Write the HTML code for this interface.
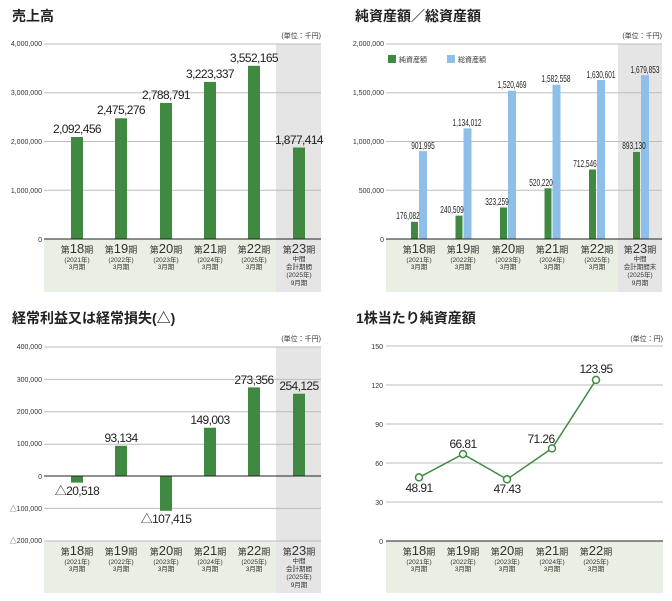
<!DOCTYPE html>
<html><head><meta charset="utf-8"><style>
html,body{margin:0;padding:0;background:#fff;}
svg{display:block;font-family:"Liberation Sans","Noto Sans CJK JP",sans-serif;}
.t{font-size:14px;font-weight:bold;fill:#222;}
.ax{font-size:7px;fill:#333;}
.u{font-size:7px;fill:#333;}
.v{font-size:12px;fill:#222;letter-spacing:-0.6px;}
.c{font-size:9px;fill:#333;}
.cn{font-size:13px;}
.s{font-size:6.5px;fill:#333;}
.n{font-size:10px;fill:#222;}
.g{stroke:#bdbdbd;stroke-width:1;}
</style></head><body>
<svg width="672" height="601" viewBox="0 0 672 601">
<!-- Chart 1 -->
<text class="t" x="12" y="21">売上高</text>
<rect x="44" y="239" width="232" height="53" fill="#e9efe2"/>
<rect x="276" y="44" width="45" height="248" fill="#e5e5e5"/>
<line class="g" x1="44" y1="44" x2="321" y2="44"/>
<line class="g" x1="44" y1="92.75" x2="321" y2="92.75"/>
<line class="g" x1="44" y1="141.5" x2="321" y2="141.5"/>
<line class="g" x1="44" y1="190.25" x2="321" y2="190.25"/>
<text class="u" x="321" y="38" text-anchor="end">(単位：千円)</text>
<g class="ax" text-anchor="end">
<text x="42" y="46">4,000,000</text><text x="42" y="95">3,000,000</text><text x="42" y="144">2,000,000</text><text x="42" y="193">1,000,000</text><text x="42" y="242">0</text>
</g>
<g fill="#3f8a40">
<rect x="71" y="137" width="12" height="102"/><rect x="115" y="118.3" width="12" height="120.7"/><rect x="160" y="103" width="12" height="136"/><rect x="204" y="81.9" width="12" height="157.1"/><rect x="248" y="65.8" width="12" height="173.2"/><rect x="293" y="147.5" width="12" height="91.5"/>
</g>
<line x1="44" y1="239" x2="321" y2="239" stroke="#222" stroke-width="1"/>
<g class="v" text-anchor="middle">
<text x="77" y="133">2,092,456</text><text x="121" y="114">2,475,276</text><text x="166" y="99">2,788,791</text><text x="210" y="78">3,223,337</text><text x="254" y="62">3,552,165</text><text x="299" y="144">1,877,414</text>
</g>
<g text-anchor="middle">
<text class="c" x="77" y="253">第<tspan class="cn">18</tspan>期</text><text class="s" x="77" y="262">(2021年)</text><text class="s" x="77" y="269">3月期</text>
<text class="c" x="121" y="253">第<tspan class="cn">19</tspan>期</text><text class="s" x="121" y="262">(2022年)</text><text class="s" x="121" y="269">3月期</text>
<text class="c" x="166" y="253">第<tspan class="cn">20</tspan>期</text><text class="s" x="166" y="262">(2023年)</text><text class="s" x="166" y="269">3月期</text>
<text class="c" x="210" y="253">第<tspan class="cn">21</tspan>期</text><text class="s" x="210" y="262">(2024年)</text><text class="s" x="210" y="269">3月期</text>
<text class="c" x="254" y="253">第<tspan class="cn">22</tspan>期</text><text class="s" x="254" y="262">(2025年)</text><text class="s" x="254" y="269">3月期</text>
<text class="c" x="299" y="253">第<tspan class="cn">23</tspan>期</text><text class="s" x="299" y="261">中間</text><text class="s" x="299" y="269">会計期間</text><text class="s" x="299" y="277">(2025年)</text><text class="s" x="299" y="285">9月期</text>
</g>

<!-- Chart 2 -->
<text class="t" x="355" y="21">純資産額／総資産額</text>
<rect x="386" y="239" width="232" height="53" fill="#e9efe2"/>
<rect x="618" y="44" width="44" height="248" fill="#e5e5e5"/>
<line class="g" x1="386" y1="44" x2="662" y2="44"/>
<line class="g" x1="386" y1="92.75" x2="662" y2="92.75"/>
<line class="g" x1="386" y1="141.5" x2="662" y2="141.5"/>
<line class="g" x1="386" y1="190.25" x2="662" y2="190.25"/>
<text class="u" x="662" y="38" text-anchor="end">(単位：千円)</text>
<g class="ax" text-anchor="end">
<text x="384" y="46">2,000,000</text><text x="384" y="95">1,500,000</text><text x="384" y="144">1,000,000</text><text x="384" y="193">500,000</text><text x="384" y="242">0</text>
</g>
<rect x="388" y="55" width="8" height="8" fill="#3f8a40"/><text class="u" x="399" y="62">純資産額</text>
<rect x="447" y="55" width="8" height="8" fill="#8ebfe8"/><text class="u" x="458" y="62">総資産額</text>
<g fill="#3f8a40">
<rect x="411" y="221.8" width="7" height="17.2"/><rect x="455.5" y="215.6" width="7" height="23.4"/><rect x="500" y="207.5" width="7" height="31.5"/><rect x="544.5" y="188.3" width="7" height="50.7"/><rect x="589" y="169.5" width="7" height="69.5"/><rect x="633" y="151.9" width="7" height="87.1"/>
</g>
<g fill="#8ebfe8">
<rect x="419" y="151.1" width="8" height="87.9"/><rect x="463.5" y="128.4" width="8" height="110.6"/><rect x="508" y="90.7" width="8" height="148.3"/><rect x="552.5" y="84.7" width="8" height="154.3"/><rect x="597" y="80" width="8" height="159"/><rect x="641" y="75.2" width="8" height="163.8"/>
</g>
<line x1="386" y1="239" x2="662" y2="239" stroke="#222" stroke-width="1"/>
<g class="n" text-anchor="middle">
<text transform="translate(408,219) scale(0.65,1)">176,082</text>
<text transform="translate(452,213) scale(0.65,1)">240,509</text>
<text transform="translate(497,205) scale(0.65,1)">323,259</text>
<text transform="translate(541,186) scale(0.65,1)">520,220</text>
<text transform="translate(585,167) scale(0.65,1)">712,546</text>
<text transform="translate(634,149) scale(0.65,1)">893,130</text>
<text transform="translate(423,149) scale(0.65,1)">901,995</text>
<text transform="translate(467,126) scale(0.65,1)">1,134,012</text>
<text transform="translate(512,88) scale(0.65,1)">1,520,469</text>
<text transform="translate(556,82) scale(0.65,1)">1,582,558</text>
<text transform="translate(601,78) scale(0.65,1)">1,630,601</text>
<text transform="translate(645,73) scale(0.65,1)">1,679,853</text>
</g>
<g text-anchor="middle">
<text class="c" x="419" y="253">第<tspan class="cn">18</tspan>期</text><text class="s" x="419" y="262">(2021年)</text><text class="s" x="419" y="269">3月期</text>
<text class="c" x="463" y="253">第<tspan class="cn">19</tspan>期</text><text class="s" x="463" y="262">(2022年)</text><text class="s" x="463" y="269">3月期</text>
<text class="c" x="508" y="253">第<tspan class="cn">20</tspan>期</text><text class="s" x="508" y="262">(2023年)</text><text class="s" x="508" y="269">3月期</text>
<text class="c" x="552" y="253">第<tspan class="cn">21</tspan>期</text><text class="s" x="552" y="262">(2024年)</text><text class="s" x="552" y="269">3月期</text>
<text class="c" x="597" y="253">第<tspan class="cn">22</tspan>期</text><text class="s" x="597" y="262">(2025年)</text><text class="s" x="597" y="269">3月期</text>
<text class="c" x="640" y="253">第<tspan class="cn">23</tspan>期</text><text class="s" x="640" y="261">中間</text><text class="s" x="640" y="269">会計期間末</text><text class="s" x="640" y="277">(2025年)</text><text class="s" x="640" y="285">9月期</text>
</g>

<!-- Chart 3 -->
<text class="t" x="12" y="323">経常利益又は経常損失(△)</text>
<rect x="44" y="541" width="232" height="52" fill="#e9efe2"/>
<rect x="276" y="347" width="45" height="246" fill="#e5e5e5"/>
<line class="g" x1="44" y1="347" x2="321" y2="347"/>
<line class="g" x1="44" y1="379.4" x2="321" y2="379.4"/>
<line class="g" x1="44" y1="411.8" x2="321" y2="411.8"/>
<line class="g" x1="44" y1="444.2" x2="321" y2="444.2"/>
<line class="g" x1="44" y1="508.4" x2="321" y2="508.4"/>
<line class="g" x1="44" y1="541" x2="321" y2="541"/>
<text class="u" x="321" y="341" text-anchor="end">(単位：千円)</text>
<g class="ax" text-anchor="end">
<text x="42" y="349">400,000</text><text x="42" y="382">300,000</text><text x="42" y="414">200,000</text><text x="42" y="446">100,000</text><text x="42" y="479">0</text><text x="42" y="511">△100,000</text><text x="42" y="543">△200,000</text>
</g>
<g fill="#3f8a40">
<rect x="71" y="476" width="12" height="6.6"/><rect x="115" y="445.8" width="12" height="30.2"/><rect x="160" y="476" width="12" height="34.8"/><rect x="204" y="427.7" width="12" height="48.3"/><rect x="248" y="387.4" width="12" height="88.6"/><rect x="293" y="393.7" width="12" height="82.3"/>
</g>
<line x1="44" y1="476" x2="321" y2="476" stroke="#222" stroke-width="1"/>
<g class="v" text-anchor="middle">
<text x="77" y="495">△20,518</text><text x="121" y="442">93,134</text><text x="166" y="523">△107,415</text><text x="210" y="424">149,003</text><text x="254" y="384">273,356</text><text x="299" y="390">254,125</text>
</g>
<g text-anchor="middle">
<text class="c" x="77" y="555">第<tspan class="cn">18</tspan>期</text><text class="s" x="77" y="564">(2021年)</text><text class="s" x="77" y="571">3月期</text>
<text class="c" x="121" y="555">第<tspan class="cn">19</tspan>期</text><text class="s" x="121" y="564">(2022年)</text><text class="s" x="121" y="571">3月期</text>
<text class="c" x="166" y="555">第<tspan class="cn">20</tspan>期</text><text class="s" x="166" y="564">(2023年)</text><text class="s" x="166" y="571">3月期</text>
<text class="c" x="210" y="555">第<tspan class="cn">21</tspan>期</text><text class="s" x="210" y="564">(2024年)</text><text class="s" x="210" y="571">3月期</text>
<text class="c" x="254" y="555">第<tspan class="cn">22</tspan>期</text><text class="s" x="254" y="564">(2025年)</text><text class="s" x="254" y="571">3月期</text>
<text class="c" x="299" y="555">第<tspan class="cn">23</tspan>期</text><text class="s" x="299" y="563">中間</text><text class="s" x="299" y="571">会計期間</text><text class="s" x="299" y="579">(2025年)</text><text class="s" x="299" y="587">9月期</text>
</g>

<!-- Chart 4 -->
<text class="t" x="356" y="323">1株当たり純資産額</text>
<rect x="386" y="541" width="277" height="52" fill="#e9efe2"/>
<line class="g" x1="386" y1="346" x2="663" y2="346"/>
<line class="g" x1="386" y1="385" x2="663" y2="385"/>
<line class="g" x1="386" y1="424" x2="663" y2="424"/>
<line class="g" x1="386" y1="463" x2="663" y2="463"/>
<line class="g" x1="386" y1="502" x2="663" y2="502"/>
<text class="u" x="663" y="341" text-anchor="end">(単位：円)</text>
<g class="ax" text-anchor="end">
<text x="383" y="349">150</text><text x="383" y="388">120</text><text x="383" y="427">90</text><text x="383" y="466">60</text><text x="383" y="505">30</text><text x="383" y="544">0</text>
</g>
<line x1="386" y1="541" x2="663" y2="541" stroke="#222" stroke-width="1"/>
<polyline points="419,477.4 463,454.1 507,479.3 552,448.4 596,379.9" fill="none" stroke="#3f8a40" stroke-width="1.5"/>
<g fill="#fff" stroke="#3f8a40" stroke-width="1.5">
<circle cx="419" cy="477.4" r="3.5"/><circle cx="463" cy="454.1" r="3.5"/><circle cx="507" cy="479.3" r="3.5"/><circle cx="552" cy="448.4" r="3.5"/><circle cx="596" cy="379.9" r="3.5"/>
</g>
<g class="v" text-anchor="middle">
<text x="419" y="492">48.91</text><text x="463" y="448">66.81</text><text x="507" y="493">47.43</text><text x="541" y="443">71.26</text><text x="596" y="373">123.95</text>
</g>
<g text-anchor="middle">
<text class="c" x="419" y="555">第<tspan class="cn">18</tspan>期</text><text class="s" x="419" y="564">(2021年)</text><text class="s" x="419" y="571">3月期</text>
<text class="c" x="463" y="555">第<tspan class="cn">19</tspan>期</text><text class="s" x="463" y="564">(2022年)</text><text class="s" x="463" y="571">3月期</text>
<text class="c" x="507" y="555">第<tspan class="cn">20</tspan>期</text><text class="s" x="507" y="564">(2023年)</text><text class="s" x="507" y="571">3月期</text>
<text class="c" x="552" y="555">第<tspan class="cn">21</tspan>期</text><text class="s" x="552" y="564">(2024年)</text><text class="s" x="552" y="571">3月期</text>
<text class="c" x="596" y="555">第<tspan class="cn">22</tspan>期</text><text class="s" x="596" y="564">(2025年)</text><text class="s" x="596" y="571">3月期</text>
</g>
</svg>
</body></html>
